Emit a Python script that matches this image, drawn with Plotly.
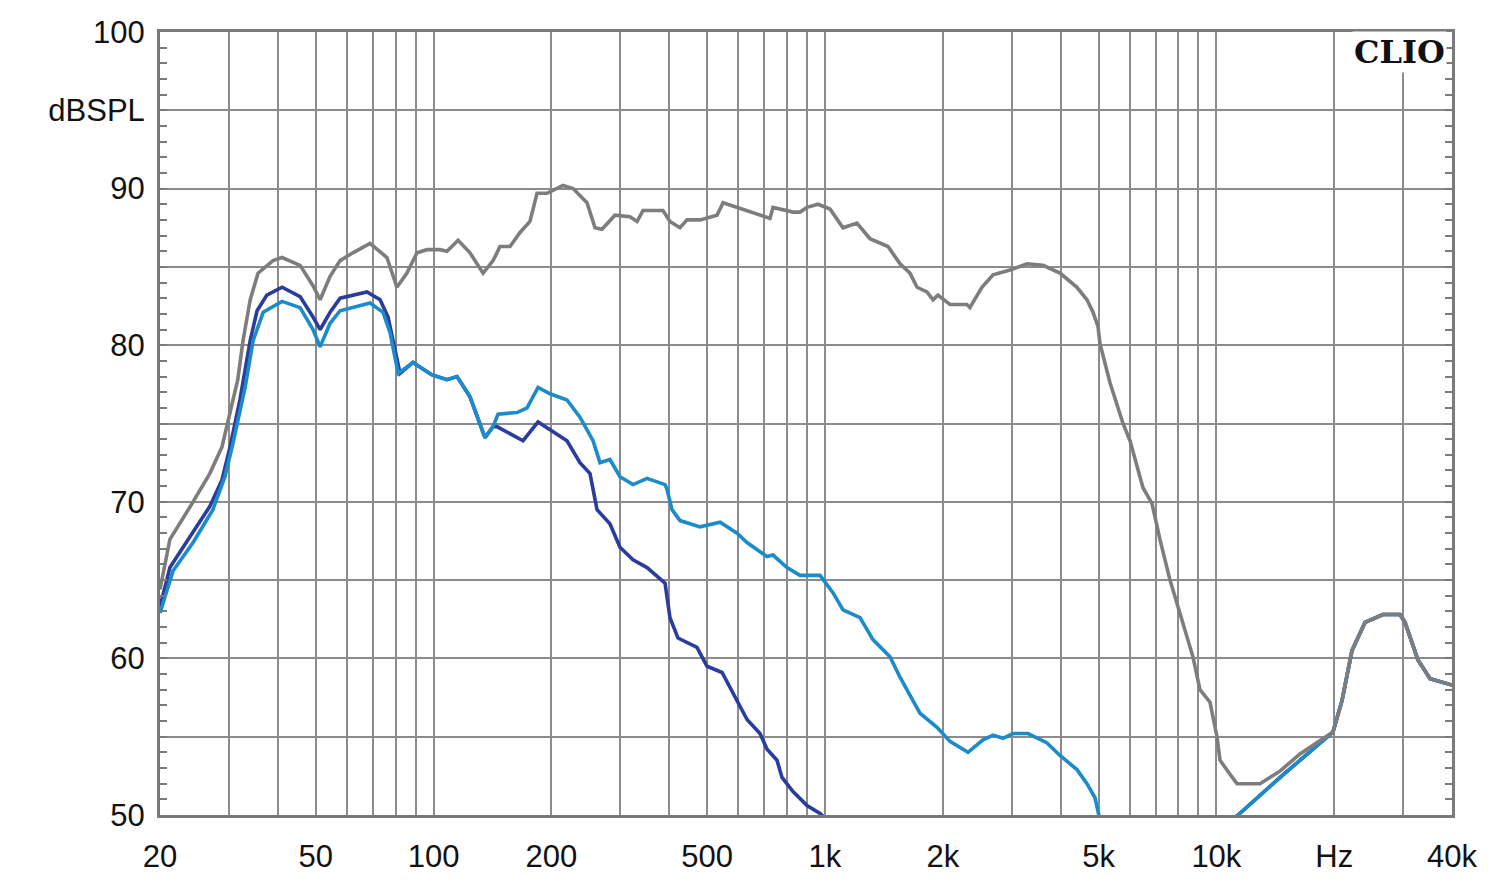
import plotly.graph_objects as go

# ---------------- data ----------------
gray_f = [20, 21.2, 23.9, 26.8, 28.8, 30.2, 31.6, 32.6, 34.0, 35.6, 38.9, 41.0, 45.6, 49.2, 51.3,
          54.4, 57.7, 62.2, 68.8, 76.0, 80.6, 85.5, 90.7, 96.2, 103.9, 108.2, 115.5, 123.9, 133.8,
          141.9, 147.8, 156.8, 166.3, 176.3, 183.8, 194.9, 214.1, 227.2, 246.6, 258.5, 269.4,
          290.7, 317.5, 331.0, 342.8, 385.6, 401.8, 426.2, 444.2, 479.6, 529.9, 549.1, 596.3,
          643.4, 723.8, 736.6, 828.6, 863.4, 899.8, 959.9, 1030, 1112, 1207, 1303, 1382, 1449,
          1555, 1649, 1719, 1822, 1888, 1944, 2086, 2306, 2346, 2518, 2688, 2970, 3282, 3606,
          3986, 4404, 4671, 4840, 4984, 5043, 5349, 5774, 6018, 6494, 6846, 7176, 7613, 7838,
          8315, 8714, 9080, 9632, 10038, 10216, 10836, 11292, 12928, 14540, 16354, 18070, 19860,
          20940, 22210, 23980, 26650, 29460, 30340, 32740, 35150, 40000]
gray_db = [64.4, 67.6, 69.7, 71.8, 73.5, 75.8, 77.8, 80.3, 82.9, 84.6, 85.4, 85.6, 85.1, 83.8, 82.9,
           84.4, 85.4, 85.9, 86.5, 85.6, 83.7, 84.6, 85.9, 86.1, 86.1, 86.0, 86.7, 85.9, 84.6,
           85.4, 86.3, 86.3, 87.2, 87.9, 89.7, 89.7, 90.2, 90.0, 89.1, 87.5, 87.4,
           88.3, 88.2, 87.9, 88.6, 88.6, 87.9, 87.5, 88.0, 88.0, 88.3, 89.1, 88.8,
           88.5, 88.1, 88.8, 88.5, 88.5, 88.8, 89.0, 88.7, 87.5, 87.8, 86.8, 86.5, 86.3,
           85.2, 84.6, 83.7, 83.4, 82.9, 83.2, 82.6, 82.6, 82.4, 83.7, 84.5, 84.8, 85.2, 85.1,
           84.6, 83.7, 82.9, 82.1, 81.2, 80.1, 77.6, 75.0, 73.9, 70.9, 69.9, 67.6, 65.0, 63.9,
           61.8, 60.1, 58.0, 57.2, 55.0, 53.5, 52.6, 52.0, 52.0, 52.8, 53.9, 54.6, 55.3,
           57.3, 60.5, 62.3, 62.8, 62.8, 62.3, 59.9, 58.7, 58.3]

dark_f = [20, 21.2, 23.9, 26.8, 28.8, 30.2, 32.0, 34.0, 35.4, 37.5, 41.0, 45.6, 49.2, 51.3, 54.4,
          57.7, 67.6, 73.0, 76.5, 78.8, 82.1, 88.6, 99.1, 108.2, 114.8, 123.9, 135.3, 141.9,
          145.2, 169.3, 184.9, 198.4, 219.2, 236.6, 251.0, 261.6, 282.2, 299.4, 323.3, 351.1,
          379.0, 390.3, 401.8, 421.2, 471.0, 499.7, 545.9, 596.3, 632.2, 682.4, 711.3, 754.1,
          776.6, 828.6, 899.8, 971.3, 1010, None,
          11000, 11358, 14700, 18070, 19860, 20940, 22210, 23980, 26650, 29460, 30340, 32740,
          35150, 40000]
dark_db = [63.3, 65.8, 67.8, 69.7, 71.4, 73.5, 76.5, 80.3, 82.2, 83.2, 83.7, 83.1, 81.8, 81.0, 82.1,
           83.0, 83.4, 82.9, 81.8, 80.3, 78.2, 78.9, 78.1, 77.8, 78.0, 76.7, 74.1, 74.8,
           74.8, 73.9, 75.1, 74.6, 73.9, 72.5, 71.8, 69.5, 68.6, 67.1, 66.3, 65.8,
           65.1, 64.8, 62.6, 61.3, 60.7, 59.5, 59.1, 57.3, 56.1, 55.2, 54.2, 53.5,
           52.4, 51.5, 50.6, 50.1, 49.7, None,
           49.7, 50.0, 52.5, 54.4, 55.3, 57.3, 60.5, 62.3, 62.8, 62.8, 62.3, 59.9,
           58.7, 58.3]

light_f = [20, 21.6, 24.3, 27.3, 29.3, 30.7, 33.0, 34.6, 36.7, 41.0, 45.6, 49.2, 51.3, 54.4, 57.7,
           68.8, 74.3, 77.4, 81.2, 88.6, 99.1, 108.2, 114.8, 123.9, 135.3, 141.9, 146.1, 163.4,
           173.3, 184.9, 198.4, 219.2, 236.6, 255.5, 266.2, 282.2, 299.4, 323.3, 351.1, 390.3,
           394.9, 406.6, 426.2, 479.6, 539.5, 596.3, 632.2, 711.3, 736.6, 799.8, 863.4, 971.3,
           1048, 1112, 1229, 1326, 1466, 1555, 1678, 1749, 1933, 2086, 2320, 2534, 2688, 2851,
           3023, 3302, 3693, 3986, 4404, 4671, 4897, 4984, 5050, None,
           11000, 11358, 14700, 18070, 19860, 20940, 22210, 23980, 26650, 29460, 30340, 32740,
           35150, 40000]
light_db = [62.9, 65.6, 67.4, 69.5, 71.6, 73.7, 77.3, 80.3, 82.1, 82.8, 82.4, 81.0, 79.9, 81.4, 82.2,
            82.7, 82.1, 80.8, 78.2, 78.9, 78.1, 77.8, 78.0, 76.7, 74.1, 74.8, 75.6, 75.7,
            76.0, 77.3, 76.9, 76.5, 75.4, 73.9, 72.5, 72.7, 71.6, 71.1, 71.5, 71.1,
            70.8, 69.5, 68.8, 68.4, 68.7, 68.0, 67.4, 66.5, 66.6, 65.8, 65.3, 65.3,
            64.2, 63.1, 62.6, 61.2, 60.1, 58.8, 57.3, 56.5, 55.6, 54.7, 54.0, 54.8, 55.1, 54.9,
            55.2, 55.2, 54.6, 53.8, 52.9, 52.0, 51.1, 50.1, 49.6, None,
            49.7, 50.0, 52.5, 54.4, 55.3, 57.3, 60.5, 62.3, 62.8, 62.8, 62.3, 59.9,
            58.7, 58.3]

x_grid = [20, 30, 40, 50, 60, 70, 80, 90, 100, 200, 300, 400, 500, 600, 700, 800, 900,
          1000, 2000, 3000, 4000, 5000, 6000, 7000, 8000, 9000, 10000, 20000, 30000, 40000]
x_labels = {20: "20", 50: "50", 100: "100", 200: "200", 500: "500", 1000: "1k", 2000: "2k",
            5000: "5k", 10000: "10k", 20000: "Hz", 40000: "40k"}
y_grid = [50, 55, 60, 65, 70, 75, 80, 85, 90, 95, 100]
y_ticks = list(range(50, 101))
y_labels = {50: "50", 60: "60", 70: "70", 80: "80", 90: "90", 95: "dBSPL", 100: "100"}

# ---------------- figure ----------------
GRID = "#8c8c8c"
EDGE = "#7a7a7a"
fig = go.Figure()
# invisible helper trace so the grid axis (y2) is drawn
fig.add_trace(go.Scatter(x=[20, 40000], y=[None, None], yaxis="y2", mode="lines",
                         hoverinfo="skip", showlegend=False))
fig.add_trace(go.Scatter(x=dark_f, y=dark_db, mode="lines",
                         line=dict(color="#2a3c9c", width=3.6), hoverinfo="skip"))
fig.add_trace(go.Scatter(x=light_f, y=light_db, mode="lines",
                         line=dict(color="#1b8bc9", width=3.6), hoverinfo="skip"))
fig.add_trace(go.Scatter(x=gray_f, y=gray_db, mode="lines",
                         line=dict(color="#7d7d7d", width=3.6), hoverinfo="skip"))

fig.update_layout(
    width=1500, height=891,
    margin=dict(l=160, r=48, t=32, b=76, autoexpand=False),
    paper_bgcolor="white", plot_bgcolor="white",
    showlegend=False,
    font=dict(family="Liberation Sans, Arial, sans-serif", size=31, color="#111111"),
    xaxis=dict(
        type="log", range=[1.30103, 4.60206],
        tickmode="array", tickvals=x_grid,
        ticktext=[x_labels.get(v, "") for v in x_grid],
        showgrid=True, gridcolor=GRID, gridwidth=2,
        showline=True, linecolor=EDGE, linewidth=3, mirror=True,
        ticks="", ticklabelstandoff=12, zeroline=False,
    ),
    yaxis=dict(
        range=[50, 100],
        tickmode="array", tickvals=y_ticks,
        ticktext=[y_labels.get(v, "") for v in y_ticks],
        showgrid=False,
        showline=True, linecolor=EDGE, linewidth=3, mirror="allticks",
        ticks="inside", ticklen=7, tickwidth=2, tickcolor=EDGE,
        ticklabelstandoff=6, zeroline=False,
    ),
    yaxis2=dict(
        range=[50, 100], overlaying="y", side="left",
        tickmode="array", tickvals=y_grid, showticklabels=False,
        showgrid=True, gridcolor=GRID, gridwidth=2,
        showline=False, ticks="", zeroline=False,
    ),
)
fig.add_annotation(
    text="<b>CLIO</b>", xref="paper", yref="paper", x=0.996, y=0.975,
    xanchor="right", yanchor="middle", showarrow=False,
    font=dict(family="DejaVu Serif, serif", size=32, color="#111111"),
    bgcolor="white",
)
fig.write_html("out.html")
